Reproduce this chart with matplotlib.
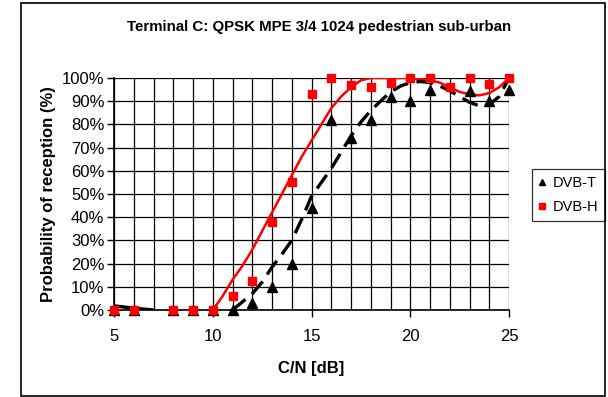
import numpy as np
import matplotlib.pyplot as plt
from matplotlib.patches import Rectangle
from matplotlib.ticker import MultipleLocator, PercentFormatter

# ==== Données ====
cn_t = [5, 6, 8, 9, 10, 11, 12, 13, 14, 15, 16, 17, 18, 19, 20, 21, 23, 24, 25]
p_t = [0, 0, 0, 0, 0, 0, 3, 10, 20, 44, 82, 74, 82, 92, 90, 95, 94.5, 90, 95]

cn_h = [5, 6, 8, 9, 10, 11, 12, 13, 14, 15, 16, 17, 18, 19, 20, 21, 22, 23, 24, 25]
p_h = [0, 0, 0, 0, 0, 6, 12.5, 38, 55, 93, 100, 97, 96, 98, 100, 100, 96, 100, 97.4, 100]

# courbes de tendance
trend_t_x = [5, 6, 7, np.nan, 11, 11.5, 12, 12.5, 13, 13.5, 14, 14.5, 15, 15.5, 16, 16.5,
             17, 17.5, 18, 18.5, 19, 19.5, 20, 20.5, 21, 21.5, 22, 22.5, 23, 23.5,
             24, 24.5, 25]
trend_t_y = [1.8, 0.8, 0, np.nan, 0, 3.5, 7, 12, 18.5, 24, 30, 39, 49, 55, 61, 68,
             75, 81, 86, 90, 94, 96.5, 98, 98.5, 98, 96.5, 94.5, 92, 89.5, 88,
             88.5, 92, 100]

trend_h_x = [10, 10.5, 11, 11.5, 12, 12.5, 13, 13.5, 14, 14.5, 15, 15.5, 16, 16.5, 17,
             17.5, 18, 19, 20, 21, 21.5, 22, 22.5, 23, 23.5, 24, 24.5, 25]
trend_h_y = [0, 6, 13, 19, 26, 34, 42, 50, 58, 66, 73, 80, 87, 92, 96,
             99, 100, 100, 100, 99, 98, 96, 94, 93, 92.5, 93.5, 96, 100]

plt.rcParams['font.family'] = ['Liberation Sans', 'DejaVu Sans']

fig = plt.figure(figsize=(6.08, 3.97), dpi=100)
ax = fig.add_axes([114 / 608, 1 - 310 / 397, 395 / 608, 232 / 397])

# cadre extérieur
fig.patches.append(Rectangle((21 / 608, 1 / 397), 584 / 608, 393 / 397,
                             transform=fig.transFigure, fill=False,
                             edgecolor='black', lw=1.2))

ax.plot(trend_h_x, trend_h_y, '-', color='red', lw=1.8, zorder=3)
ax.plot(trend_t_x, trend_t_y, '--', color='black', lw=2.4, dashes=(5, 2.5), zorder=3)
ax.plot(cn_t, p_t, '^', color='black', ms=6.5, label='DVB-T', zorder=4, clip_on=False)
ax.plot(cn_h, p_h, 's', color='red', ms=5.8, label='DVB-H', zorder=5, clip_on=False)

ax.set_xlim(5, 25)
ax.set_ylim(0, 100)
ax.xaxis.set_major_locator(MultipleLocator(5))
ax.xaxis.set_minor_locator(MultipleLocator(1))
ax.yaxis.set_major_locator(MultipleLocator(10))
ax.yaxis.set_major_formatter(PercentFormatter(decimals=0))
ax.grid(True, which='both', color='black', lw=0.9)
ax.set_axisbelow(True)
ax.tick_params(axis='both', which='major', labelsize=12, length=5, width=1, direction='out')
ax.tick_params(axis='x', which='minor', length=0)
ax.tick_params(axis='x', which='major', pad=9)
ax.tick_params(axis='y', which='major', pad=2)

for side in ['top', 'right']:
    ax.spines[side].set_visible(False)
for side in ['left', 'bottom']:
    ax.spines[side].set_linewidth(1.2)

ax.set_xlabel('C/N [dB]', fontsize=12, fontweight='bold', labelpad=12)
ax.set_ylabel('Probability of reception (%)', fontsize=12, fontweight='bold', labelpad=4)
fig.text(319 / 608, 1 - 27 / 397, 'Terminal C: QPSK MPE 3/4 1024 pedestrian sub-urban',
         ha='center', va='center', fontsize=10.8, fontweight='bold')

leg = ax.legend(loc='center left', bbox_to_anchor=(532 / 608, 1 - 195 / 397),
                bbox_transform=fig.transFigure, fontsize=10.5, frameon=True, fancybox=False,
                edgecolor='black', handlelength=0.5, handletextpad=0.45, borderpad=0.45,
                labelspacing=0.7, borderaxespad=0, markerscale=0.7)
leg.get_frame().set_linewidth(0.9)

fig.savefig('out.png', dpi=100)
